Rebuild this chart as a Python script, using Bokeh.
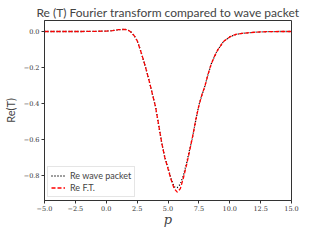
from bokeh.plotting import figure
from bokeh.models import FixedTicker, Legend, LegendItem, Range1d
from bokeh.embed import file_html
from bokeh.resources import INLINE

p_vals = [-5, -4, -3, -2, -1, 0, 0.5, 1.0, 1.5, 1.75, 2.0, 2.25, 2.5, 2.75, 3.0, 3.25, 3.5, 3.75, 4.0, 4.25,
          4.5, 4.75, 5.0, 5.25, 5.5, 5.75, 6.0, 6.25, 6.5, 6.75, 7.0, 7.25, 7.5, 7.75, 8.0, 8.25, 8.5, 8.75,
          9.0, 9.5, 10.0, 10.5, 11.0, 11.5, 12.0, 13.0, 14.0, 15.0]
re_ft = [0.0, 0.0, 0.0, 0.0, 0.001, 0.002, 0.005, 0.010, 0.012, 0.009, -0.003, -0.022, -0.05, -0.10, -0.155, -0.215,
         -0.28, -0.35, -0.42, -0.52, -0.62, -0.70, -0.76, -0.82, -0.87, -0.89, -0.87, -0.81, -0.74, -0.66, -0.58,
         -0.49, -0.41, -0.35, -0.30, -0.235, -0.18, -0.14, -0.105, -0.055, -0.03, -0.016, -0.010, -0.007, -0.004,
         -0.001, 0.0, 0.0]
re_wave = [0.0, 0.0, 0.0, 0.0, 0.001, 0.002, 0.005, 0.010, 0.012, 0.009, -0.003, -0.022, -0.05, -0.10, -0.155, -0.215,
           -0.28, -0.35, -0.42, -0.52, -0.62, -0.70, -0.755, -0.815, -0.86, -0.865, -0.845, -0.795, -0.73, -0.655,
           -0.58, -0.49, -0.41, -0.35, -0.30, -0.235, -0.18, -0.14, -0.105, -0.055, -0.03, -0.016, -0.010, -0.007,
           -0.004, -0.001, 0.0, 0.0]
x_ticks = [-5.0, -2.5, 0.0, 2.5, 5.0, 7.5, 10.0, 12.5, 15.0]
y_ticks = [0.0, -0.2, -0.4, -0.6, -0.8]


def fmt(v):
    s = "%.1f" % v
    return s.replace("-", "\u2212")


p = figure(frame_width=247, frame_height=180, output_backend="svg", toolbar_location=None,
           x_range=Range1d(-5, 15), y_range=Range1d(-0.936, 0.061),
           title="Re (T) Fourier transform compared to wave packet",
           min_border_left=32, min_border_right=24, min_border_top=20, min_border_bottom=20)
p.title.text_font = "Lato"
p.title.text_font_size = "12px"
p.title.text_font_style = "normal"
p.title.align = "center"
p.title.standoff = 2

p.xgrid.visible = False
p.ygrid.visible = False
p.outline_line_color = "#333333"
p.outline_line_width = 1

for ax in (p.xaxis[0], p.yaxis[0]):
    ax.major_label_text_font = "DejaVu Serif"
    ax.major_label_text_font_size = "6.5px"
    ax.major_label_text_color = "#333333"
    ax.minor_tick_line_color = None
    ax.major_tick_out = 3
    ax.major_tick_in = 0
    ax.major_label_standoff = 2
    ax.axis_line_color = "#333333"
    ax.major_tick_line_color = "#333333"

p.xaxis.ticker = FixedTicker(ticks=x_ticks)
p.yaxis.ticker = FixedTicker(ticks=y_ticks)
p.xaxis.major_label_overrides = {t: fmt(t) for t in x_ticks}
p.yaxis.major_label_overrides = {t: fmt(t) for t in y_ticks}

p.xaxis.axis_label = "p"
p.xaxis.axis_label_text_font = "DejaVu Serif"
p.xaxis.axis_label_text_font_style = "italic"
p.xaxis.axis_label_text_font_size = "13px"
p.xaxis.axis_label_standoff = -2
p.yaxis.axis_label = "Re(T)"
p.yaxis.axis_label_text_font = "Lato"
p.yaxis.axis_label_text_font_style = "normal"
p.yaxis.axis_label_text_font_size = "11px"
p.yaxis.axis_label_standoff = 4

r1 = p.line(p_vals, re_wave, line_color="black", line_width=1.3, line_dash="1 2")
r2 = p.line(p_vals, re_ft, line_color="red", line_width=1.3, line_dash="4 2")

legend = Legend(items=[LegendItem(label="Re wave packet", renderers=[r1]),
                       LegendItem(label="Re F.T.", renderers=[r2])],
                location="bottom_left")
legend.label_text_font = "Lato"
legend.label_text_font_size = "9px"
legend.glyph_width = 14
legend.glyph_height = 9
legend.label_height = 9
legend.spacing = 1
legend.padding = 3
legend.margin = 3
legend.label_standoff = 5
legend.border_line_color = "#cccccc"
legend.background_fill_alpha = 0.8
p.add_layout(legend)

open("out.html", "w").write(file_html(p, INLINE))
